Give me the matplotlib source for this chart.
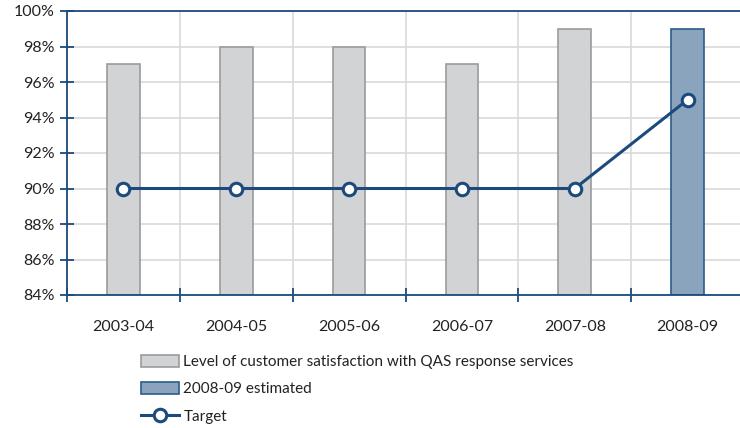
import matplotlib
matplotlib.use("Agg")
import matplotlib.pyplot as plt
from matplotlib.patches import Patch
from matplotlib.lines import Line2D
import numpy as np

years = ["2003-04", "2004-05", "2005-06", "2006-07", "2007-08", "2008-09"]
satisfaction = [97, 98, 98, 97, 99]          # 2003-04 .. 2007-08
estimated = [99]                              # 2008-09
target = [90, 90, 90, 90, 90, 95]
yticks = [84, 86, 88, 90, 92, 94, 96, 98, 100]

BLUE = "#1c4a7c"
GREY_FILL = "#d2d3d5"
GREY_EDGE = "#9a9b9e"
EST_FILL = "#8aa4bd"
EST_EDGE = "#2b5b8c"
TEXT = "#222222"

plt.rcParams["font.family"] = ["Lato", "DejaVu Sans"]

fig = plt.figure(figsize=(7.40, 4.28), dpi=100)
ax = fig.add_axes([67 / 740, 1 - 295 / 428, (744 - 67) / 740, (295 - 11) / 428])

x = np.arange(len(years))
bw = 0.29
ax.bar(x[:len(satisfaction)], [v - 84 for v in satisfaction], bottom=84, width=bw,
       color=GREY_FILL, edgecolor=GREY_EDGE, linewidth=1.2, zorder=2)
ax.bar(x[len(satisfaction):], [v - 84 for v in estimated], bottom=84, width=bw,
       color=EST_FILL, edgecolor=EST_EDGE, linewidth=1.2, zorder=2)
ax.plot(x, target, color=BLUE, linewidth=2.2, marker="o", markersize=9,
        markerfacecolor="white", markeredgecolor=BLUE, markeredgewidth=2.2, zorder=3)

ax.set_xlim(-0.5, len(years) - 0.5)
ax.set_ylim(84, 100)
ax.set_yticks(yticks)
ax.set_yticklabels([f"{v}%" for v in yticks])
ax.set_xticks(x)
ax.set_xticklabels(years)
ax.set_xticks(np.arange(-0.5, len(years), 1), minor=True)

ax.grid(True, which="minor", axis="x", color="#d9d9d9", linewidth=1.2, zorder=0)
ax.grid(True, which="major", axis="y", color="#d9d9d9", linewidth=1.2, zorder=0)
ax.set_axisbelow(True)

for side in ["left", "top", "bottom"]:
    ax.spines[side].set_color(BLUE)
    ax.spines[side].set_linewidth(1.3)
ax.spines["right"].set_visible(False)

ax.tick_params(axis="y", direction="inout", length=10, width=1.3, color=BLUE,
               labelsize=11.5, labelcolor=TEXT, pad=4)
ax.tick_params(axis="x", which="major", length=0, labelsize=11.5, labelcolor=TEXT, pad=18)
ax.tick_params(axis="x", which="minor", direction="inout", length=10, width=1.3, color=BLUE)

handles = [
    Patch(facecolor=GREY_FILL, edgecolor=GREY_EDGE, linewidth=1.2),
    Patch(facecolor=EST_FILL, edgecolor=EST_EDGE, linewidth=1.2),
    Line2D([0], [0], color=BLUE, linewidth=2.2, marker="o", markersize=9,
           markerfacecolor="white", markeredgecolor=BLUE, markeredgewidth=2.2),
]
labels = ["Level of customer satisfaction with QAS response services",
          "2008-09 estimated", "Target"]
fig.legend(handles, labels, loc="upper left", bbox_to_anchor=(133 / 740, 1 - 347 / 428),
           frameon=False, fontsize=11, handlelength=2.5, handleheight=0.85,
           handletextpad=0.3, labelspacing=0.85, borderpad=0, labelcolor=TEXT)

fig.savefig("out.png", dpi=100)
